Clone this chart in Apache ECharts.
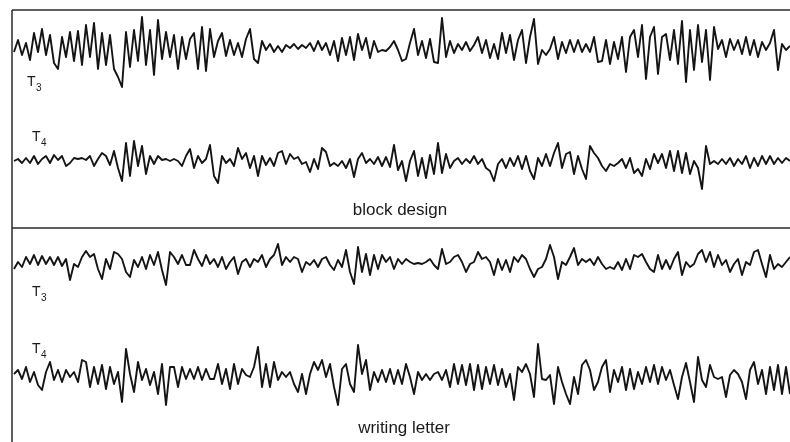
<!DOCTYPE html>
<html>
<head>
<meta charset="utf-8">
<script src="https://cdn.jsdelivr.net/npm/echarts@6/dist/echarts.min.js"></script>
<style>
html,body{margin:0;padding:0;background:#fff;}
#chart{width:790px;height:442px;}
</style>
</head>
<body>
<div id="chart"></div>
<script>
// sample spacing (time units per sample)
const SAMPLE_STEP = 4;
const TIME_MAX = 776;

// block design – T3
const t3Block = [-5,7,-8,4,-13,14,-5,18,-8,12,-16,-22,10,-10,15,-14,16,-18,22,-10,24,
  -22,14,-18,12,-22,-30,-40,15,-20,17,-14,30,-18,17,-28,27,-12,15,-10,12,
  -22,10,-12,8,14,-22,20,-24,18,-10,6,14,-9,7,-8,4,-10,8,18,-12,-16,
  6,-3,3,-5,1,-5,2,-1,3,-2,2,-1,4,-4,6,-3,4,-8,6,-14,9,-8,10,-13,13,-3,9,-11,6,-5,
  -3,-4,0,6,-3,-14,-12,4,18,-8,6,-11,8,-15,-16,29,-10,6,-6,3,-3,5,-4,2,10,-6,7,-11,3,-12,
  14,-6,12,-13,7,17,-16,
  10,28,-17,-3,-8,-2,10,-12,5,-6,7,-5,7,-5,3,-5,10,-15,-14,7,
  -17,5,-12,10,-25,10,17,-10,22,-32,10,20,-27,10,13,-13,17,-17,26,-35,
  17,-23,22,-15,17,-33,20,-2,7,-10,8,-3,7,-7,10,-8,7,-10,5,-3,4,17,-23,3,-3,1];

// block design – T4
const t4Block = [0,2,-2,3,-2,5,-3,2,5,-2,6,1,5,-5,-2,3,2,3,1,5,
  -5,2,8,5,-4,10,-7,-20,18,-15,20,-5,15,-13,5,-3,5,1,2,0,
  2,0,-5,5,12,-7,5,-2,2,16,-15,-22,5,-2,2,-5,13,2,8,-7,5,-15,5,
  -4,3,-5,8,10,-3,7,2,4,-3,-1,-11,2,-8,13,9,-5,-2,-5,0,
  -7,2,-16,2,8,-2,2,-3,4,-5,4,-6,16,-9,0,-20,0,10,-15,3,
  -17,6,-13,18,-12,7,-7,0,3,-3,2,-2,5,-3,2,-7,-10,-20,-3,2,-7,3,-5,5,-8,5,
  -10,-18,3,-5,7,-5,8,18,-7,7,9,-13,5,-8,-18,15,8,3,-5,-10,
  -3,-5,-2,2,-7,3,-12,-8,-15,2,-8,7,-2,7,-7,10,-10,10,-12,8,
  -13,0,-7,-28,15,-3,0,-3,2,-3,3,-5,2,-3,5,-7,3,-5,5,-3,5,-3,3,-2,3,0];

// writing letter – T3
const t3Writing = [-7,0,-5,5,-2,7,-3,6,-2,5,-3,5,-4,3,-18,-2,-5,5,11,5,
  8,-7,-17,3,-7,10,8,3,-10,-15,2,-5,5,-7,7,-3,10,-8,-23,10,
  5,-2,7,-3,-3,12,3,-4,7,-2,3,-5,5,-7,0,5,-12,0,3,-5,3,0,7,
  -5,3,7,18,-3,5,0,5,3,-10,0,-3,2,-5,3,5,-3,-8,2,-5,
  12,-10,-22,15,-10,8,-13,7,-7,7,0,5,-7,3,-2,3,0,-2,-1,-2,
  0,3,-3,-7,13,-2,0,5,7,0,-10,-2,0,10,3,5,0,-13,3,-8,2,-10,5,0,7,3,
  -7,-15,-7,-5,3,17,5,-17,0,-3,5,14,-3,3,0,3,-3,5,-2,-7,
  -5,-7,0,-8,3,-7,7,5,8,0,-7,-10,7,-7,2,-7,3,10,-13,0,
  -5,-2,8,12,0,10,-5,7,-3,2,-10,-2,3,-13,0,-3,10,12,-2,-15,7,-7,-2,-5,0,5];

// writing letter – T4
const t4Writing = [3,7,-2,10,-5,5,-8,-13,5,15,-3,7,-5,7,0,5,-5,17,15,-10,
  10,-7,12,-12,10,-7,5,-25,28,3,-15,15,-3,8,-8,5,-17,13,-28,10,
  10,-10,10,-2,8,-2,10,-3,8,-2,-2,13,-7,8,-12,13,-7,8,2,0,10,30,-10,
  13,-10,15,-3,5,0,5,-7,-15,3,-17,3,15,7,17,0,13,-10,-28,8,
  13,-7,-15,32,3,17,-13,5,-5,7,-5,8,-7,7,-7,13,0,-17,5,-3,
  3,-3,3,5,-3,7,-10,13,-7,12,-8,13,-13,12,-12,10,-7,12,-8,8,-10,3,-23,10,5,13,
  3,-20,33,-2,-3,2,-27,10,-5,-17,-27,0,-17,12,17,7,-13,-5,10,17,
  -15,7,-5,10,-13,8,-12,5,-7,10,-5,12,-7,10,-3,7,-8,-22,0,14,
  -5,-25,20,-3,-10,12,0,-2,0,-20,2,7,3,-5,-22,7,15,-7,7,-17,10,-13,12,-17,10,-17];

const traces = [t3Block, t4Block, t3Writing, t4Writing];
const traceTops = [2, 116, 217, 332];
const AMP = 45;

const toPairs = arr => arr.map((v, i) => [i * SAMPLE_STEP, v]);

const grid = traceTops.map(top => ({left: 14, right: 0, top: top, height: AMP * 2}));
const xAxis = traceTops.map((_, k) => ({type: 'value', gridIndex: k, min: 0, max: TIME_MAX, show: false}));
const yAxis = traceTops.map((_, k) => ({type: 'value', gridIndex: k, min: -AMP, max: AMP, show: false}));
const series = traces.map((arr, k) => ({
  type: 'line', xAxisIndex: k, yAxisIndex: k, data: toPairs(arr),
  showSymbol: false, symbol: 'none', silent: true,
  lineStyle: {color: '#141414', width: 1.9, join: 'round'}
}));

const lineStyle = {stroke: '#2a2a2a', lineWidth: 1.5};
const txtFont = 'Liberation Sans, Arial, sans-serif';
function tLabel(x, y, sub) {
  return [
    {type: 'text', left: x, top: y, style: {text: 'T', font: '14px ' + txtFont, fill: '#1a1a1a'}},
    {type: 'text', left: x + 9, top: y + 8, style: {text: sub, font: '10px ' + txtFont, fill: '#1a1a1a'}}
  ];
}

const chart = echarts.init(document.getElementById('chart'), null, {renderer: 'canvas'});
chart.setOption({
  backgroundColor: '#ffffff',
  animation: false,
  grid, xAxis, yAxis, series,
  graphic: [
    {type: 'line', shape: {x1: 12, y1: 10, x2: 790, y2: 10}, style: lineStyle},
    {type: 'line', shape: {x1: 12, y1: 10, x2: 12, y2: 442}, style: lineStyle},
    {type: 'line', shape: {x1: 12, y1: 228, x2: 790, y2: 228}, style: lineStyle},
    ...tLabel(27, 75, '3'),
    ...tLabel(32, 130, '4'),
    ...tLabel(32, 285, '3'),
    ...tLabel(32, 342, '4'),
    {type: 'text', x: 400, y: 210, style: {text: 'block design', font: '17px ' + txtFont, fill: '#1a1a1a', textAlign: 'center', textVerticalAlign: 'middle'}},
    {type: 'text', x: 404, y: 428, style: {text: 'writing letter', font: '17px ' + txtFont, fill: '#1a1a1a', textAlign: 'center', textVerticalAlign: 'middle'}}
  ]
});
</script>
</body>
</html>
